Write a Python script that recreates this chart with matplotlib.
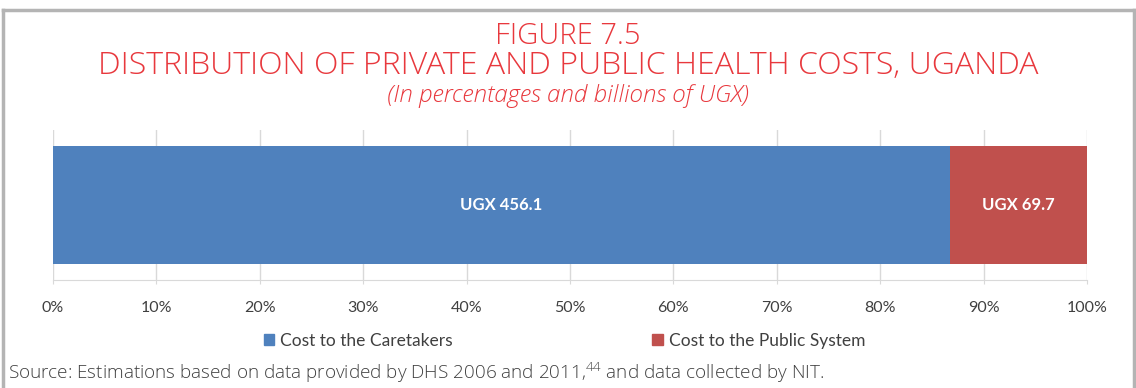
import matplotlib
matplotlib.use("Agg")
import matplotlib.pyplot as plt
from matplotlib.lines import Line2D
from matplotlib.patches import Patch
from matplotlib.ticker import PercentFormatter

# Health costs in billions of UGX
series = ["Cost to the Caretakers", "Cost to the Public System"]
values = [456.1, 69.7]
colors = ["#4F81BD", "#C0504D"]
ticks = list(range(0, 101, 10))

title_red = "#E8383D"
text_grey = "#404040"

plt.rcParams["font.family"] = ["Lato", "DejaVu Sans"]

W, H = 1136, 388
fig = plt.figure(figsize=(W / 100, H / 100), dpi=100)
ax = fig.add_axes([53 / W, 1 - 280 / H, 1034 / W, 150 / H])

total = sum(values)
left = 0.0
for name, val, col in zip(series, values, colors):
    share = val / total * 100
    ax.barh(0, share, left=left, height=0.78, color=col, label=name, zorder=3)
    ax.text(left + share / 2, 0, f"UGX {val:.1f}", ha="center", va="center",
            color="white", fontsize=12, fontweight="bold", zorder=4)
    left += share

ax.set_xlim(0, 100)
ax.set_ylim(-0.5, 0.5)
ax.set_xticks(ticks)
ax.xaxis.set_major_formatter(PercentFormatter(decimals=0))
ax.set_yticks([])
ax.grid(axis="x", color="#D9D9D9", lw=1, zorder=0)
for side in ["top", "right", "left"]:
    ax.spines[side].set_visible(False)
ax.spines["bottom"].set_color("#D9D9D9")
ax.tick_params(axis="x", length=3, color="#D9D9D9", labelsize=11.5,
               labelcolor=text_grey, pad=12)

handles = [Patch(color=c) for c in colors]
fig.legend(handles, series, loc="center", bbox_to_anchor=(0.497, 0.121),
           ncol=2, frameon=False, fontsize=12.5, handlelength=0.6,
           handleheight=0.6, handletextpad=0.35, columnspacing=11.5,
           labelcolor=text_grey)

# Titles (placed by baseline)
fig.text(0.5, 1 - 44 / H, "FIGURE 7.5", ha="center", va="baseline",
         color=title_red, fontsize=21, family="Open Sans", fontweight="light")
fig.text(0.5, 1 - 74.5 / H,
         "DISTRIBUTION OF PRIVATE AND PUBLIC HEALTH COSTS, UGANDA",
         ha="center", va="baseline", color=title_red, fontsize=23,
         family="Open Sans", fontweight="light")
fig.text(0.5, 1 - 102 / H, "(In percentages and billions of UGX)",
         ha="center", va="baseline", color=title_red, fontsize=17.5,
         family="Open Sans", fontweight="light", style="italic")

fig.text(8 / W, 1 - 379 / H,
         r"Source: Estimations based on data provided by DHS 2006 and 2011,$^{\mathregular{44}}$ and data collected by NIT.",
         ha="left", va="baseline", color=text_grey, fontsize=13.6,
         family="Open Sans", fontweight="light")

# Frame around the figure panel
frame = dict(color="#B4B4B4", lw=2.5, transform=fig.transFigure)
fig.add_artist(Line2D([3 / W, 3 / W], [0, 1 - 10 / H], **frame))
fig.add_artist(Line2D([1134 / W, 1134 / W], [0, 1 - 10 / H], **frame))
fig.add_artist(Line2D([3 / W, 1134 / W], [1 - 10 / H, 1 - 10 / H], **frame))

fig.savefig("out.png", dpi=100)
